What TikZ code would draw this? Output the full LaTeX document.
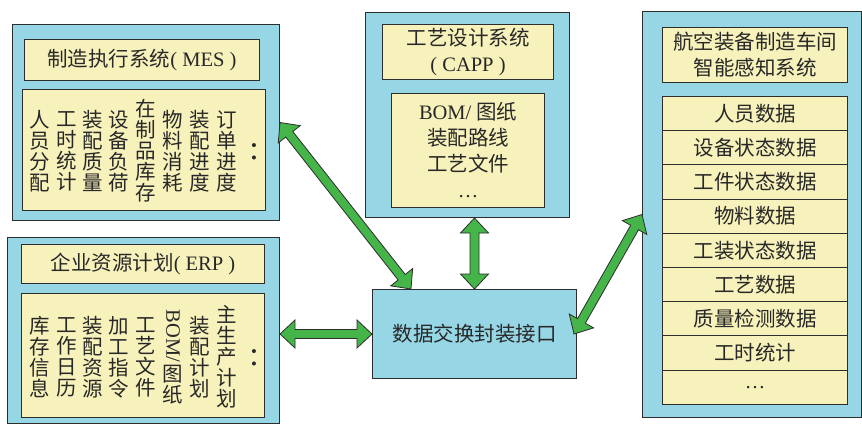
\documentclass[tikz,border=0pt]{standalone}
\usepackage{fontspec}
\setmainfont{Liberation Serif}
\newfontfamily\cjk{Noto Sans CJK SC}
\usetikzlibrary{calc}
\definecolor{boxblue}{RGB}{150,214,229}
\definecolor{boxyellow}{RGB}{247,241,187}
\definecolor{arrowgreen}{RGB}{69,181,73}
\definecolor{edgegray}{RGB}{45,45,45}
\definecolor{textdark}{RGB}{40,40,40}
\newcommand{\lat}[1]{{\rmfamily #1}}
\newcommand{\fatdbl}[2]{%
  \coordinate (fa1) at ($(#1)!15pt!(#2)$);
  \coordinate (fa2) at ($(#2)!15pt!(#1)$);
  \filldraw[fatarrow] (#1) -- ($(fa1)!14pt!90:(#2)$) -- ($(fa1)!4.5pt!90:(#2)$)
    -- ($(fa2)!4.5pt!-90:(#1)$) -- ($(fa2)!14pt!-90:(#1)$) -- (#2)
    -- ($(fa2)!14pt!90:(#1)$) -- ($(fa2)!4.5pt!90:(#1)$)
    -- ($(fa1)!4.5pt!-90:(#2)$) -- ($(fa1)!14pt!-90:(#2)$) -- cycle;}
\begin{document}
\begin{tikzpicture}[x=1pt,y=-1pt,
  outerbox/.style={draw=edgegray, fill=boxblue, line width=1pt, inner sep=0pt, anchor=north west},
  innerbox/.style={draw=edgegray, fill=boxyellow, line width=1pt, inner sep=0pt, anchor=north west},
  txt/.style={font=\fontsize{20.5}{21}\selectfont\cjk, text=textdark, align=center, inner sep=0pt},
  txtwide/.style={txt, font=\fontsize{20.5}{26}\selectfont\cjk},
  dotstxt/.style={txt, font=\fontsize{34}{34}\selectfont\rmfamily},
  fatarrow/.style={fill=arrowgreen, draw=edgegray, line width=0.8pt, line join=miter}]
\useasboundingbox (0,0) rectangle (862,425);

% MES
\node[outerbox, minimum width=267pt, minimum height=196pt] (mes) at (12,24) {};
\node[innerbox, minimum width=235pt, minimum height=41pt] (mest) at (24,39) {};
\node[innerbox, minimum width=243pt, minimum height=121pt] (mesc) at (22,89) {};
\node[txt] (mestt) at (mest.center) {制造执行系统\lat{( MES )}};
\foreach \t/\x [count=\i] in {人\\员\\分\\配/40, 工\\时\\统\\计/67, 装\\配\\质\\量/93, 设\\备\\负\\荷/119,
  在\\制\\品\\库\\存/146, 物\\料\\消\\耗/173, 装\\配\\进\\度/200, 订\\单\\进\\度/227}
  \node[txt] (mescol\i) at (\x,151) {\t};
\node[dotstxt] (mesdots) at (254,152) {:};

% ERP
\node[outerbox, minimum width=272pt, minimum height=186pt] (erp) at (7,237) {};
\node[innerbox, minimum width=243pt, minimum height=39pt] (erpt) at (21,244) {};
\node[innerbox, minimum width=243pt, minimum height=124pt] (erpc) at (21,293) {};
\node[txt] (erptt) at (erpt.center) {企业资源计划\lat{( ERP )}};
\foreach \t/\x [count=\i] in {库\\存\\信\\息/40, 工\\作\\日\\历/67, 装\\配\\资\\源/93, 加\\工\\指\\令/119,
  工\\艺\\文\\件/146, \rotatebox{-90}{\lat{BOM/}}\\[2pt]图\\纸/173, 装\\配\\计\\划/200, 主\\生\\产\\计\\划/227}
  \node[txt] (erpcol\i) at (\x,357) {\t};
\node[dotstxt] (erpdots) at (254,358) {:};

% CAPP
\node[outerbox, minimum width=204pt, minimum height=205pt] (capp) at (365,12) {};
\node[innerbox, minimum width=171pt, minimum height=55pt] (cappt) at (382,24) {};
\node[innerbox, minimum width=153pt, minimum height=114pt] (cappc) at (391,93) {};
\node[txtwide] (capptt) at (cappt.center) {工艺设计系统\\\lat{( CAPP )}};
\node[txtwide] (cappct) at (cappc.center) {\lat{BOM/} 图纸\\装配路线\\工艺文件\\\lat{…}};

% interface
\node[outerbox, minimum width=204pt, minimum height=89pt] (iface) at (372,289) {};
\node[txt] (ifacet) at (iface.center) {数据交换封装接口};

% sensing system
\node[outerbox, minimum width=219pt, minimum height=406pt] (sense) at (642,11) {};
\node[innerbox, minimum width=185pt, minimum height=55pt] (senset) at (662,27) {};
\node[txtwide] (sensett) at (senset.center) {航空装备制造车间\\智能感知系统};
\foreach \t [count=\i] in {人员数据,设备状态数据,工件状态数据,物料数据,工装状态数据,工艺数据,质量检测数据,工时统计,\lat{…}}
  \node[innerbox, txt, minimum width=185pt, minimum height=34.2pt] (row\i) at ({662},{96+34.2*(\i-1)}) {\t};

% arrows
\coordinate (a1e) at ($(iface.north west)!0.19!(iface.north east)$);
\fatdbl{mes.east}{a1e}
\coordinate (a2s) at (capp.south -| iface.north);
\fatdbl{a2s}{iface.north}
\coordinate (a3s) at (erp.east |- iface.west);
\fatdbl{a3s}{iface.west}
\coordinate (a4s) at ($(iface.east)+(-3,0)$);
\fatdbl{a4s}{sense.west}
\end{tikzpicture}
\end{document}
